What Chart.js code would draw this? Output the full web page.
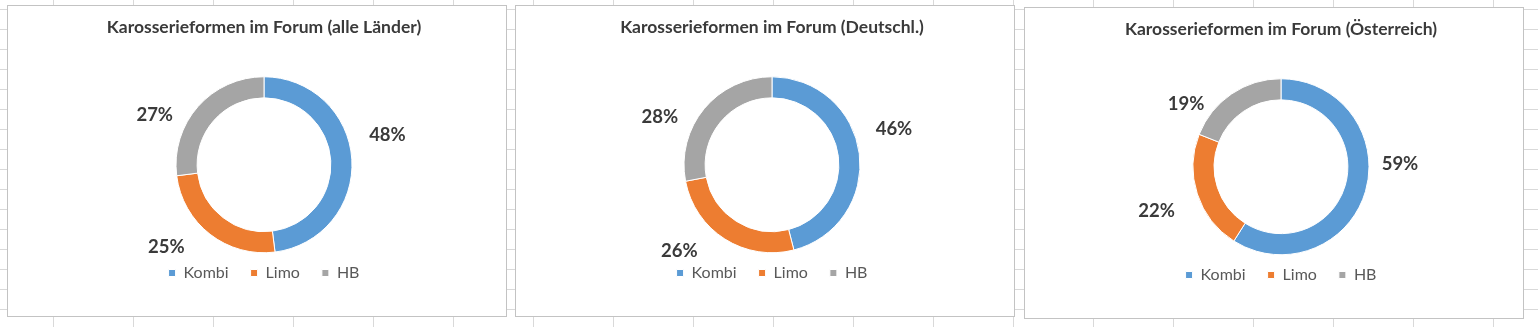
<!DOCTYPE html>
<html>
<head>
<meta charset="utf-8">
<script src="https://cdn.jsdelivr.net/npm/chart.js@4.4.1/dist/chart.umd.min.js"></script>
<style>
  html, body { margin: 0; padding: 0; }
  body {
    width: 1538px;
    height: 327px;
    overflow: hidden;
    position: relative;
    background-color: #fff;
    /* sheet cells behind the charts */
    background-image:
      linear-gradient(to right, #d9d9d9 1px, transparent 1px),
      linear-gradient(to bottom, #d9d9d9 1px, transparent 1px);
    background-size: 80px 20px;
    background-position: 53px 9px;
  }
  .frame {
    position: absolute;
    width: 500px;
    height: 312px;
    box-sizing: border-box;
    border: 1px solid #c3c3c3;
    background: #fff;
  }
</style>
</head>
<body>
<div class="frame" style="left:7px;top:5px"><canvas id="chartAll"></canvas></div>
<div class="frame" style="left:515px;top:5px"><canvas id="chartDE"></canvas></div>
<div class="frame" style="left:1024px;top:7px"><canvas id="chartAT"></canvas></div>

<script>
// body types and their share in percent
const categories = ["Kombi", "Limo", "HB"];
const shareAll = [48, 25, 27];
const shareDE = [46, 26, 28];
const shareAT = [59, 22, 19];

const titleAll = "Karosserieformen im Forum (alle Länder)";
const titleDE = "Karosserieformen im Forum (Deutschl.)";
const titleAT = "Karosserieformen im Forum (Österreich)";

const sliceColors = ["#5B9BD5", "#ED7D31", "#A5A5A5"];

// percent labels around the ring; nudge = [angle shift in degrees, gap outside ring]
const pieLabels = {
  id: "pieLabels",
  afterDatasetsDraw(chart, args, opts) {
    const ctx = chart.ctx;
    const values = chart.data.datasets[0].data;
    const total = values.reduce((a, b) => a + b, 0);
    const meta = chart.getDatasetMeta(0);
    ctx.save();
    ctx.font = "bold 18.5px Lato";
    ctx.fillStyle = "#3a3a3a";
    ctx.textAlign = "center";
    ctx.textBaseline = "middle";
    meta.data.forEach((arc, i) => {
      const p = arc.getProps(["x", "y", "startAngle", "endAngle", "outerRadius"], true);
      const [turn, gap] = opts.nudge[i];
      const a = (p.startAngle + p.endAngle) / 2 + turn * Math.PI / 180;
      const r = p.outerRadius + gap;
      const txt = Math.round(values[i] / total * 100) + "%";
      ctx.fillText(txt, p.x + Math.cos(a) * r, p.y + Math.sin(a) * r);
    });
    ctx.restore();
  }
};

function makeDonut(id, title, values, nudge) {
  return new Chart(document.getElementById(id), {
    type: "doughnut",
    data: {
      labels: categories,
      datasets: [{
        data: values,
        backgroundColor: sliceColors,
        borderColor: "#fff",
        borderWidth: 1
      }]
    },
    options: {
      responsive: true,
      maintainAspectRatio: false,
      animation: false,
      cutout: "76%",
      radius: 88,
      layout: { padding: { left: 14, bottom: 25 } },
      plugins: {
        title: {
          display: true,
          text: title,
          color: "#3a3a3a",
          font: { family: "Lato", size: 17.5, weight: "bold" },
          padding: { top: 10.5, bottom: 49 }
        },
        legend: {
          position: "bottom",
          labels: {
            color: "#595959",
            font: { family: "Lato", size: 16 },
            boxWidth: 7,
            boxHeight: 7,
            padding: 22
          }
        },
        tooltip: { enabled: false },
        pieLabels: { nudge: nudge }
      }
    },
    plugins: [pieLabels]
  });
}

makeDonut("chartAll", titleAll, shareAll, [[-10, 39], [12, 40], [-17, 32]]);
makeDonut("chartDE", titleDE, shareDE, [[-9, 39], [14.5, 39], [-16.4, 34]]);
makeDonut("chartAT", titleAT, shareAT, [[-17.6, 31], [-1.4, 44], [-22.2, 26]]);
</script>
</body>
</html>
